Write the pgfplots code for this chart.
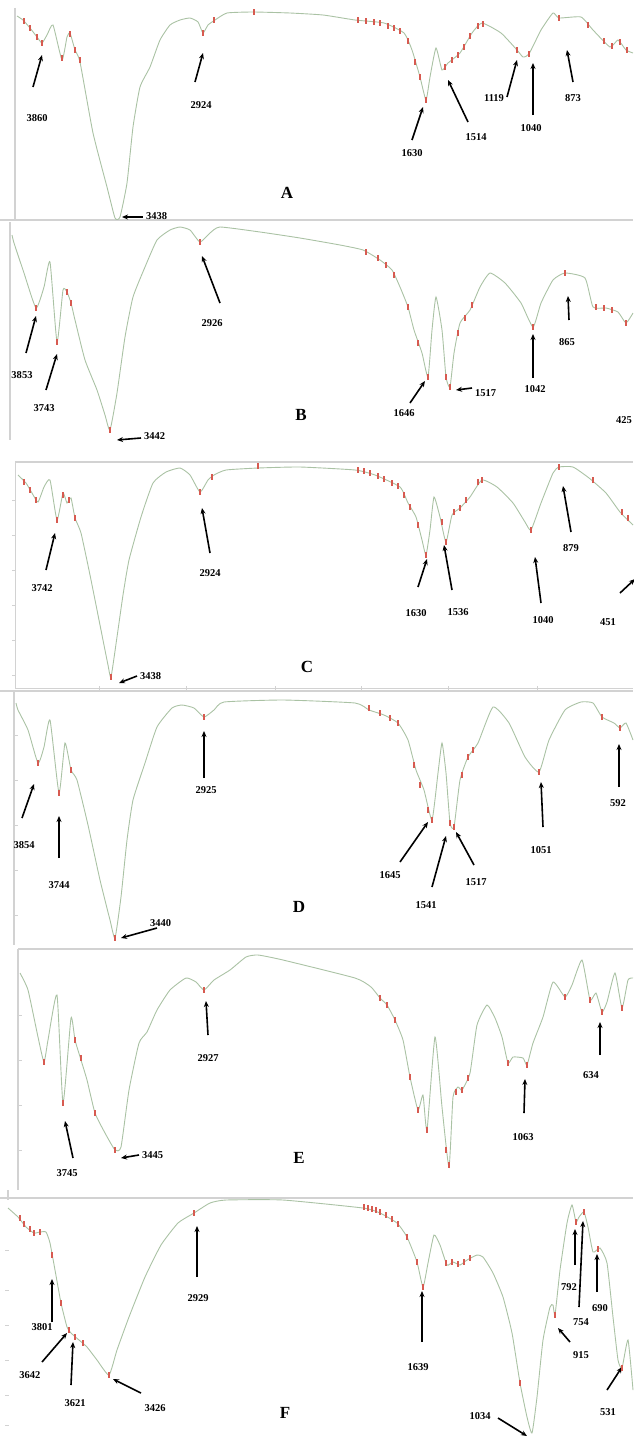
\documentclass[border=0pt]{standalone}
\usepackage{fontspec}
\setmainfont{Liberation Serif}
\usepackage{pgfplots}
\pgfplotsset{compat=1.18}
\usetikzlibrary{arrows.meta}
\definecolor{curve}{RGB}{170,194,164}
\definecolor{mk}{RGB}{215,90,80}
\definecolor{frame}{RGB}{210,210,210}
\pgfplotsset{panel/.style={scale only axis, hide axis, clip=false, y dir=reverse, anchor=north west, xmax=633},
  spec/.style={curve, line width=0.9pt, mark=none, smooth, tension=0.3},
  pk/.style={only marks, mark=|, mark size=2.6pt, mk, mark options={line width=1.1pt}}}
\tikzset{arr/.style={black, line width=1.6pt, -{Stealth[length=6pt,width=5pt]}},
  lab/.style={font=\fontsize{10.5}{10.5}\selectfont\bfseries, inner sep=0pt},
  big/.style={font=\fontsize{17}{17}\selectfont\bfseries, inner sep=0pt}}
\begin{document}
\begin{tikzpicture}
\path[use as bounding box] (0,0) rectangle (633pt,-1437pt);
% frames
\begin{scope}[frame, line width=1.3pt]
\draw (15pt,-8pt) -- (15pt,-219pt);
\draw (0pt,-220pt) -- (633pt,-220pt);
\draw (10pt,-222pt) -- (10pt,-440pt);
\draw (15pt,-462pt) -- (633pt,-462pt);
\draw[line width=0.8pt] (15pt,-462pt) -- (15pt,-688pt);
\draw[line width=0.8pt] (15pt,-688pt) -- (633pt,-688pt);
\draw (0pt,-691pt) -- (633pt,-691pt);
\draw (14pt,-692pt) -- (14pt,-945pt);
\draw (18pt,-949pt) -- (633pt,-949pt);
\draw (18pt,-949pt) -- (18pt,-1190pt);
\draw (0pt,-1198pt) -- (633pt,-1198pt);
\draw (8pt,-1190pt) -- (8pt,-1200pt);
\foreach \t in {500,535,570,605,640,675} \draw[line width=0.8pt] (12pt,-\t pt) -- (16pt,-\t pt);
\foreach \t in {99,186,275,361,448,537} \draw[line width=0.8pt] (\t pt,-686pt) -- (\t pt,-690pt);
\foreach \t in {735,780,825,870,915} \draw[line width=0.8pt] (14pt,-\t pt) -- (18pt,-\t pt);
\foreach \t in {1015,1060,1105,1150} \draw[line width=0.8pt] (18pt,-\t pt) -- (22pt,-\t pt);
\foreach \t in {1250,1290,1325,1360,1395,1425} \draw[line width=0.8pt] (5pt,-\t pt) -- (9pt,-\t pt);
\end{scope}
% ---------------- A
\begin{axis}[panel, at={(15pt,-8pt)}, width=618pt, height=211pt, xmin=15, ymin=8, ymax=219]
\addplot[spec] coordinates {(17,16)(23,20)(30,28)(37,37)(42,43)(47,35)(53,25)(62,60)(67,37)(70,33)(75,50)(80,62)(93,133)(107,187)(115,218)(120,217)(127,183)(133,127)(140,87)(150,67)(160,40)(170,25)(180,20)(190,18)(198,22)(203,33)(208,25)(215,20)(227,13)(253,12)(290,13)(323,15)(355,20)(384,23)(404,33)(412,50)(420,77)(426,100)(430,77)(436,48)(442,70)(448,63)(460,53)(472,33)(482,23)(501,33)(517,50)(523,57)(529,54)(541,30)(553,13)(559,18)(581,17)(593,30)(610,47)(618,40)(626,50)(633,53)};
\addplot[pk] coordinates {(24,21)(30,28)(37,37)(42,43)(62,58)(70,34)(75,50)(80,60)(203,33)(214,20)(254,12)(358,20)(366,21)(374,22)(380,23)(388,26)(394,28)(400,31)(408,41)(415,62)(420,77)(426,100)(445,67)(452,60)(458,55)(464,47)(470,36)(478,26)(483,24)(517,50)(529,54)(559,18)(588,25)(604,41)(612,46)(620,42)(627,50)};
\draw[arr] (axis cs:33,87) -- (axis cs:42,55);
\node[lab] at (axis cs:37,118) {3860};
\draw[arr] (axis cs:143,217) -- (axis cs:122,217);
\node[lab,anchor=west] at (axis cs:146,216) {3438};
\draw[arr] (axis cs:195,82) -- (axis cs:203,53);
\node[lab] at (axis cs:201,105) {2924};
\draw[arr] (axis cs:412,140) -- (axis cs:423,107);
\node[lab] at (axis cs:412,153) {1630};
\draw[arr] (axis cs:468,122) -- (axis cs:448,80);
\node[lab] at (axis cs:476,137) {1514};
\draw[arr] (axis cs:507,97) -- (axis cs:517,60);
\node[lab] at (axis cs:494,98) {1119};
\draw[arr] (axis cs:533,115) -- (axis cs:533,63);
\node[lab] at (axis cs:531,128) {1040};
\draw[arr] (axis cs:573,82) -- (axis cs:567,50);
\node[lab] at (axis cs:573,98) {873};
\node[big] at (axis cs:287,193) {A};
\end{axis}
% ---------------- B
\begin{axis}[panel, at={(10pt,-222pt)}, width=623pt, height=218pt, xmin=10, ymin=222, ymax=440]
\addplot[spec] coordinates {(12,235)(14,243)(24,273)(36,308)(44,287)(50,262)(57,342)(63,290)(67,292)(71,303)(75,320)(85,360)(97,390)(105,415)(110,430)(117,393)(125,337)(133,297)(145,267)(157,240)(170,230)(180,227)(190,230)(200,242)(210,233)(220,227)(260,232)(300,238)(340,245)(363,250)(380,260)(392,270)(400,287)(408,307)(414,330)(422,353)(428,377)(432,330)(436,297)(442,330)(446,377)(450,387)(454,353)(460,323)(470,310)(480,287)(490,273)(505,283)(521,303)(533,327)(541,303)(553,280)(565,273)(585,278)(593,307)(606,308)(618,312)(626,323)(633,313)};
\addplot[pk] coordinates {(36,308)(57,342)(67,292)(71,303)(110,430)(200,242)(366,252)(378,258)(386,265)(394,275)(408,307)(418,343)(428,377)(446,377)(450,387)(458,333)(465,318)(472,305)(533,327)(565,273)(596,307)(604,308)(612,310)(626,323)};
\draw[arr] (axis cs:26,353) -- (axis cs:36,316);
\node[lab] at (axis cs:22,375) {3853};
\draw[arr] (axis cs:46,390) -- (axis cs:57,354);
\node[lab] at (axis cs:44,408) {3743};
\draw[arr] (axis cs:141,438) -- (axis cs:117,440);
\node[lab,anchor=west] at (axis cs:144,436) {3442};
\draw[arr] (axis cs:220,303) -- (axis cs:202,256);
\node[lab] at (axis cs:212,323) {2926};
\draw[arr] (axis cs:410,403) -- (axis cs:425,381);
\node[lab] at (axis cs:404,413) {1646};
\draw[arr] (axis cs:472,388) -- (axis cs:456,390);
\node[lab,anchor=west] at (axis cs:475,393) {1517};
\draw[arr] (axis cs:533,378) -- (axis cs:533,334);
\node[lab] at (axis cs:535,389) {1042};
\draw[arr] (axis cs:569,320) -- (axis cs:568,296);
\node[lab] at (axis cs:567,342) {865};
\node[lab] at (axis cs:624,420) {425};
\node[big] at (axis cs:301,415) {B};
\end{axis}
% ---------------- C
\begin{axis}[panel, at={(15pt,-462pt)}, width=618pt, height=226pt, xmin=15, ymin=462, ymax=688]
\addplot[spec] coordinates {(18,475)(26,483)(32,493)(38,502)(44,487)(50,480)(57,520)(63,493)(67,503)(71,498)(75,518)(81,533)(90,575)(100,625)(108,665)(111,677)(117,637)(123,595)(129,560)(141,517)(153,483)(166,472)(180,468)(190,475)(200,492)(208,480)(214,475)(226,470)(258,468)(300,467)(355,470)(375,475)(400,487)(408,503)(416,517)(422,540)(426,555)(430,530)(434,497)(440,517)(446,542)(452,515)(460,508)(470,497)(482,480)(497,487)(513,503)(525,522)(531,530)(541,503)(553,473)(559,467)(573,467)(589,478)(606,493)(620,512)(633,525)};
\addplot[pk] coordinates {(24,482)(30,490)(36,500)(57,520)(63,495)(69,500)(75,518)(111,677)(200,492)(212,477)(258,466)(358,470)(364,471)(370,473)(378,476)(384,479)(392,483)(398,486)(404,495)(410,507)(418,525)(426,555)(442,522)(446,542)(454,512)(460,508)(466,500)(478,482)(482,480)(531,530)(559,467)(593,480)(622,512)(628,518)};
\draw[arr] (axis cs:46,570) -- (axis cs:55,533);
\node[lab] at (axis cs:42,588) {3742};
\draw[arr] (axis cs:137,676) -- (axis cs:119,683);
\node[lab,anchor=west] at (axis cs:140,676) {3438};
\draw[arr] (axis cs:210,553) -- (axis cs:202,508);
\node[lab] at (axis cs:210,573) {2924};
\draw[arr] (axis cs:418,587) -- (axis cs:427,559);
\node[lab] at (axis cs:416,613) {1630};
\draw[arr] (axis cs:452,590) -- (axis cs:444,545);
\node[lab] at (axis cs:458,612) {1536};
\draw[arr] (axis cs:541,603) -- (axis cs:535,557);
\node[lab] at (axis cs:543,620) {1040};
\draw[arr] (axis cs:571,532) -- (axis cs:563,486);
\node[lab] at (axis cs:571,548) {879};
\draw[arr] (axis cs:620,593) -- (axis cs:635,579);
\node[lab] at (axis cs:608,622) {451};
\node[big] at (axis cs:307,667) {C};
\end{axis}
% ---------------- D
\begin{axis}[panel, at={(14pt,-692pt)}, width=619pt, height=253pt, xmin=14, ymin=692, ymax=945]
\addplot[spec] coordinates {(16,703)(18,710)(28,730)(38,763)(44,747)(50,720)(59,793)(65,743)(71,770)(77,780)(88,825)(100,880)(110,920)(115,938)(121,897)(127,840)(133,800)(145,763)(157,727)(172,708)(182,705)(194,708)(204,717)(214,710)(224,702)(283,700)(355,703)(369,710)(384,715)(398,723)(408,740)(416,770)(424,790)(432,820)(438,773)(442,743)(446,773)(450,823)(454,827)(460,780)(468,757)(478,743)(493,707)(509,723)(525,757)(539,772)(549,740)(565,710)(581,702)(593,703)(602,717)(614,723)(620,728)(626,723)(633,740)};
\addplot[pk] coordinates {(38,763)(59,793)(71,770)(115,938)(204,717)(369,708)(380,713)(390,718)(398,723)(414,765)(420,785)(428,810)(432,820)(450,823)(454,827)(462,775)(468,757)(473,750)(539,772)(602,717)(620,728)};
\draw[arr] (axis cs:22,818) -- (axis cs:34,784);
\node[lab] at (axis cs:24,845) {3854};
\draw[arr] (axis cs:59,858) -- (axis cs:59,816);
\node[lab] at (axis cs:59,885) {3744};
\draw[arr] (axis cs:157,928) -- (axis cs:121,938);
\node[lab,anchor=south west] at (axis cs:150,927) {3440};
\draw[arr] (axis cs:204,778) -- (axis cs:204,731);
\node[lab] at (axis cs:206,790) {2925};
\draw[arr] (axis cs:400,862) -- (axis cs:428,822);
\node[lab] at (axis cs:390,875) {1645};
\draw[arr] (axis cs:432,887) -- (axis cs:446,836);
\node[lab] at (axis cs:426,905) {1541};
\draw[arr] (axis cs:474,865) -- (axis cs:456,832);
\node[lab] at (axis cs:476,882) {1517};
\draw[arr] (axis cs:543,827) -- (axis cs:541,782);
\node[lab] at (axis cs:541,850) {1051};
\draw[arr] (axis cs:619,787) -- (axis cs:619,744);
\node[lab] at (axis cs:618,803) {592};
\node[big] at (axis cs:299,907) {D};
\end{axis}
% ---------------- E
\begin{axis}[panel, at={(18pt,-950pt)}, width=615pt, height=240pt, xmin=18, ymin=950, ymax=1190]
\addplot[spec] coordinates {(20,973)(28,990)(38,1037)(44,1062)(48,1040)(57,995)(63,1103)(71,1018)(75,1040)(81,1060)(87,1080)(95,1113)(105,1133)(115,1150)(121,1147)(129,1090)(139,1043)(147,1032)(157,1010)(170,990)(186,978)(196,982)(204,990)(214,980)(230,970)(246,957)(258,955)(283,960)(355,978)(371,987)(380,998)(387,1005)(395,1020)(403,1040)(410,1077)(418,1110)(423,1095)(427,1130)(435,1037)(442,1107)(449,1167)(453,1097)(458,1087)(462,1090)(470,1073)(477,1025)(487,1005)(495,1018)(502,1037)(508,1063)(513,1057)(523,1058)(527,1065)(533,1043)(543,1017)(553,982)(565,997)(572,985)(582,960)(590,1000)(596,993)(602,1012)(607,1002)(615,973)(622,1008)(628,980)(633,978)};
\addplot[pk] coordinates {(44,1062)(63,1103)(75,1040)(81,1058)(95,1113)(115,1150)(204,990)(380,998)(387,1005)(395,1020)(410,1077)(418,1110)(427,1130)(446,1150)(449,1165)(456,1092)(462,1090)(468,1078)(508,1063)(527,1065)(565,997)(590,1000)(602,1012)(622,1008)};
\draw[arr] (axis cs:73,1158) -- (axis cs:65,1121);
\node[lab] at (axis cs:67,1173) {3745};
\draw[arr] (axis cs:139,1155) -- (axis cs:121,1158);
\node[lab,anchor=west] at (axis cs:142,1155) {3445};
\draw[arr] (axis cs:208,1035) -- (axis cs:206,1001);
\node[lab] at (axis cs:208,1058) {2927};
\draw[arr] (axis cs:524,1113) -- (axis cs:525,1079);
\node[lab] at (axis cs:523,1137) {1063};
\draw[arr] (axis cs:600,1055) -- (axis cs:600,1022);
\node[lab] at (axis cs:591,1075) {634};
\node[big] at (axis cs:299,1158) {E};
\end{axis}
% ---------------- F
\begin{axis}[panel, at={(8pt,-1200pt)}, width=625pt, height=237pt, xmin=8, ymin=1200, ymax=1437]
\addplot[spec] coordinates {(8,1208)(18,1217)(26,1227)(34,1233)(40,1232)(46,1232)(50,1243)(55,1270)(61,1303)(67,1327)(71,1333)(79,1340)(87,1347)(97,1360)(109,1375)(117,1350)(129,1317)(145,1277)(161,1245)(178,1223)(194,1213)(210,1203)(226,1200)(283,1200)(363,1208)(380,1213)(397,1223)(407,1237)(417,1262)(423,1287)(428,1263)(434,1235)(440,1245)(447,1265)(453,1262)(460,1265)(467,1260)(477,1255)(483,1257)(493,1273)(503,1297)(512,1333)(520,1383)(527,1417)(532,1433)(537,1397)(543,1340)(550,1307)(553,1305)(555,1315)(560,1270)(567,1223)(572,1205)(576,1222)(579,1217)(584,1212)(588,1227)(593,1252)(600,1248)(607,1263)(613,1317)(618,1360)(622,1368)(628,1340)(633,1390)};
\addplot[pk] coordinates {(20,1218)(24,1224)(30,1229)(34,1233)(40,1232)(52,1255)(61,1303)(69,1330)(75,1337)(83,1343)(109,1375)(194,1213)(364,1207)(368,1208)(372,1209)(376,1210)(380,1212)(386,1215)(392,1219)(398,1224)(407,1237)(417,1262)(423,1287)(446,1263)(452,1262)(458,1264)(464,1262)(470,1258)(520,1383)(555,1315)(576,1222)(584,1212)(598,1249)(622,1368)};
\draw[arr] (axis cs:52,1322) -- (axis cs:52,1279);
\node[lab] at (axis cs:42,1327) {3801};
\draw[arr] (axis cs:42,1362) -- (axis cs:67,1333);
\node[lab] at (axis cs:30,1375) {3642};
\draw[arr] (axis cs:71,1385) -- (axis cs:73,1342);
\node[lab] at (axis cs:75,1403) {3621};
\draw[arr] (axis cs:141,1393) -- (axis cs:113,1379);
\node[lab] at (axis cs:155,1408) {3426};
\draw[arr] (axis cs:197,1277) -- (axis cs:197,1226);
\node[lab] at (axis cs:198,1298) {2929};
\draw[arr] (axis cs:422,1342) -- (axis cs:422,1291);
\node[lab] at (axis cs:418,1367) {1639};
\draw[arr] (axis cs:498,1418) -- (axis cs:527,1436);
\node[lab] at (axis cs:480,1416) {1034};
\draw[arr] (axis cs:570,1342) -- (axis cs:558,1328);
\node[lab] at (axis cs:581,1355) {915};
\draw[arr] (axis cs:575,1265) -- (axis cs:575,1229);
\node[lab] at (axis cs:569,1287) {792};
\draw[arr] (axis cs:579,1307) -- (axis cs:583,1221);
\node[lab] at (axis cs:581,1322) {754};
\draw[arr] (axis cs:597,1292) -- (axis cs:597,1254);
\node[lab] at (axis cs:600,1308) {690};
\draw[arr] (axis cs:607,1390) -- (axis cs:622,1367);
\node[lab] at (axis cs:608,1412) {531};
\node[big] at (axis cs:285,1413) {F};
\end{axis}
\end{tikzpicture}
\end{document}
